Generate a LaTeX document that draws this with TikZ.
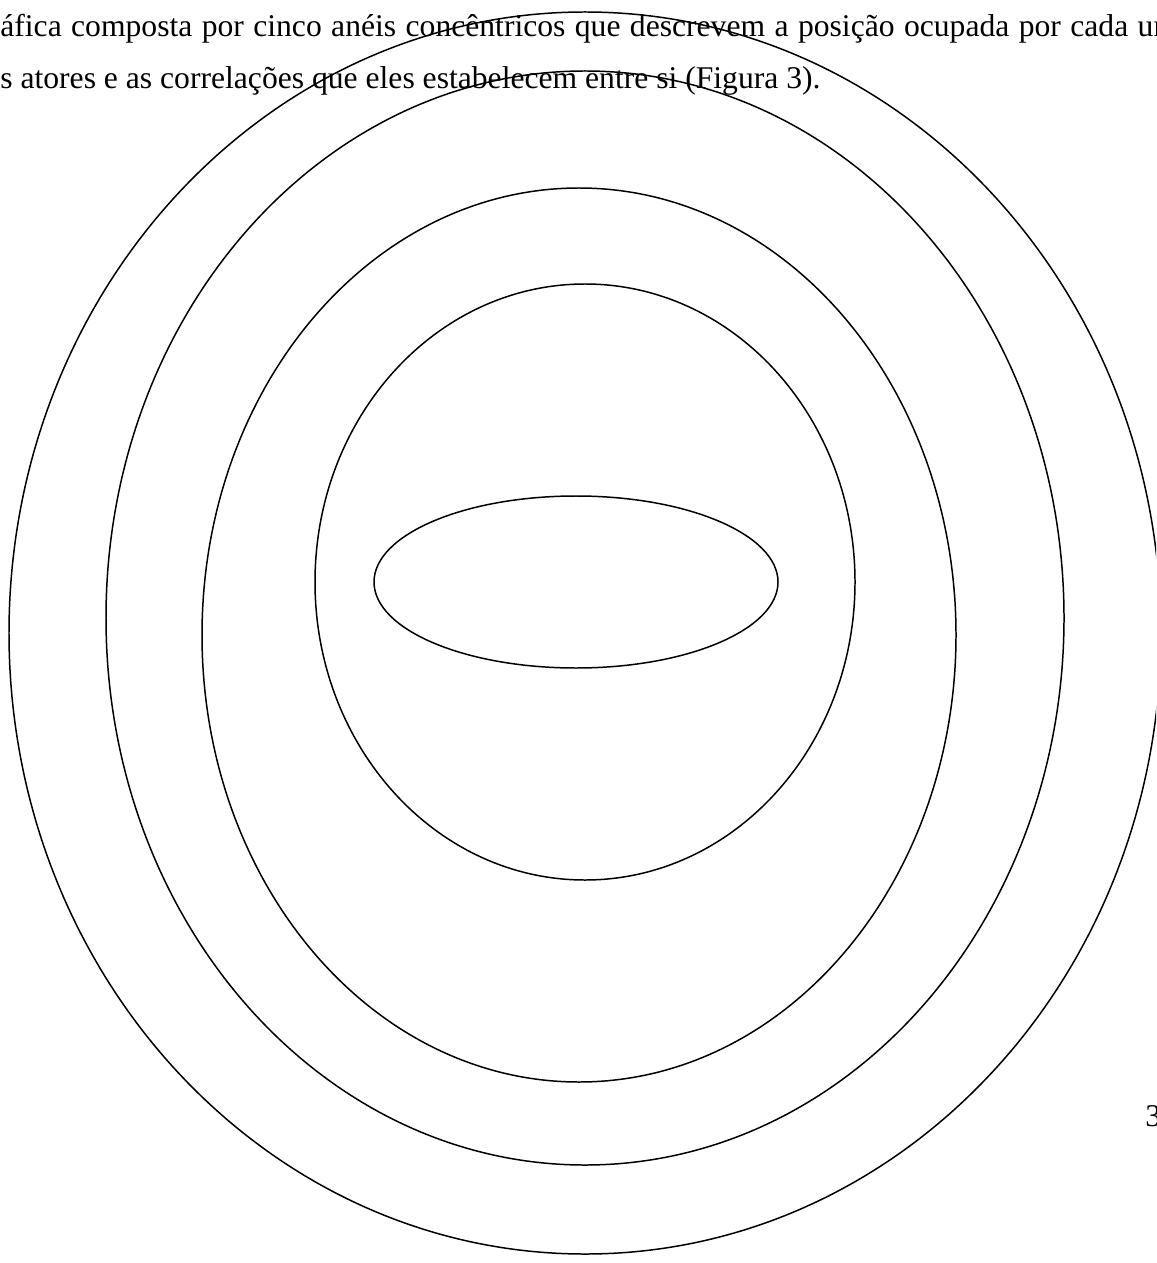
\documentclass[tikz,border=0pt]{standalone}
\usepackage{fontspec}
\setmainfont{Liberation Serif}
\usepackage{tikz}

\begin{document}
\begin{tikzpicture}[x=0.02cm,y=-0.02cm,
ring/.style={line width=0.85pt},
linha/.style={anchor=base west,inner sep=0pt,font=\fontsize{18}{21}\selectfont}]
\useasboundingbox (0,0) rectangle (1156,1263);
\clip (0,0) rectangle (1156,1263);
% cinco aneis
\draw[ring](585,633) ellipse [x radius=576,y radius=621];
\draw[ring](585,618) ellipse [x radius=479,y radius=547];
\draw[ring](579,635) ellipse [x radius=377,y radius=447];
\draw[ring](585,582) ellipse [x radius=270,y radius=298];
\draw[ring](576,582) ellipse [x radius=202,y radius=86];
% texto (linha 1 justificada)
\node[linha] (l1) at (0,37) {\spaceskip=5.35pt áfica composta por cinco anéis concêntricos que descrevem a posição ocupada por cada um};
\node[linha] (l2) at (0,89) {s atores e as correlações que eles estabelecem entre si (Figura 3).};
\node[linha] (pag) at (1145,1126) {3};
\end{tikzpicture}
\end{document}
